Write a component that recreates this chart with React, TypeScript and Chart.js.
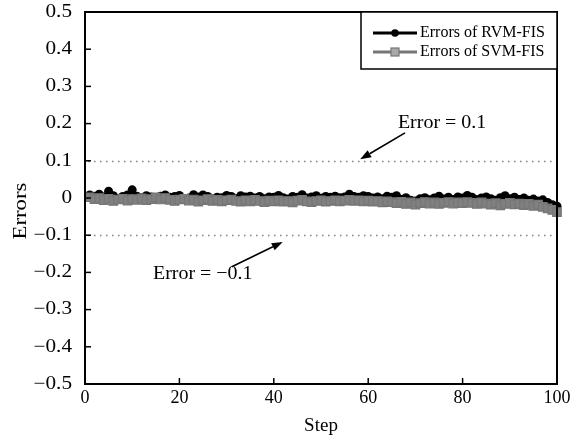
import React, { useEffect, useRef } from "react";
import { Chart, registerables } from "chart.js";

Chart.register(...registerables);

const steps: number[] = Array.from({ length: 100 }, (_, i) => i + 1);

const rvmErrors: number[] = [
  0.008, 0.005, 0.01, 0.003, 0.018, 0.006, -0.002, 0.004, 0.008, 0.022,
  0.005, 0.0, 0.006, 0.003, -0.003, 0.005, 0.008, 0.002, 0.004, 0.007,
  -0.004, 0.0, 0.009, 0.003, 0.008, 0.004, -0.003, 0.002, 0.001, 0.007,
  0.004, -0.002, 0.006, 0.003, 0.005, 0.0, 0.004, -0.002, 0.003, 0.002,
  0.007, 0.001, -0.003, 0.004, 0.002, 0.009, 0.0, 0.003, 0.006, -0.001,
  0.004, 0.002, 0.005, 0.001, 0.003, 0.01, 0.004, 0.002, 0.006, 0.004,
  0.0, 0.003, -0.002, 0.005, 0.002, 0.006, -0.004, 0.001, -0.006, -0.008,
  -0.002, 0.001, -0.005, 0.0, 0.005, -0.003, 0.002, -0.004, 0.003, 0.0,
  0.007, 0.002, -0.004, 0.0, 0.003, -0.002, -0.006, 0.001, 0.006, -0.002,
  0.002, -0.004, 0.0, -0.006, -0.003, -0.008, -0.005, -0.012, -0.018, -0.022,
];

const svmErrors: number[] = [
  0.002, -0.003, 0.0, -0.006, -0.002, -0.008, -0.004, -0.002, -0.007, -0.003,
  -0.005, -0.001, -0.006, -0.003, 0.002, -0.004, 0.0, -0.005, -0.008, -0.004,
  -0.002, -0.007, -0.004, -0.01, -0.006, -0.003, -0.008, -0.005, -0.009, -0.006,
  -0.004, -0.008, -0.01, -0.006, -0.009, -0.005, -0.008, -0.011, -0.007, -0.009,
  -0.006, -0.01, -0.008, -0.012, -0.007, -0.005, -0.009, -0.011, -0.008, -0.006,
  -0.01, -0.008, -0.006, -0.009, -0.007, -0.005, -0.008, -0.006, -0.009, -0.007,
  -0.01, -0.008, -0.012, -0.009, -0.011, -0.014, -0.01, -0.016, -0.012, -0.018,
  -0.014, -0.011, -0.015, -0.012, -0.016, -0.013, -0.011, -0.015, -0.012, -0.014,
  -0.011, -0.013, -0.016, -0.012, -0.015, -0.018, -0.014, -0.02, -0.016, -0.013,
  -0.017, -0.015, -0.019, -0.016, -0.021, -0.018, -0.024, -0.028, -0.032, -0.038,
];

const seriesNames: string[] = ["Errors of RVM-FIS", "Errors of SVM-FIS"];
const thresholds: number[] = [0.1, -0.1];
const xTickStep = 20;
const yTickStep = 0.1;

const annotationTexts: string[] = ["Error = 0.1", "Error = \u22120.1"];
// [textX, textY, arrowFromX, arrowFromY, arrowToX, arrowToY] in data units
const annotationAnchors: number[][] = [
  [66.3, 0.202, 67.8, 0.175, 58.3, 0.104],
  [14.4, -0.205, 31.1, -0.185, 41.9, -0.118],
];

const SERIF = "'Liberation Serif', 'Times New Roman', serif";

function yLabel(v: number): string {
  const r = Math.round(v * 10) / 10;
  if (r === 0) return "0";
  return r < 0 ? "\u2212" + Math.abs(r).toFixed(1) : r.toFixed(1);
}

const decorPlugin = {
  id: "decor",
  beforeDatasetsDraw(chart: any) {
    const { ctx, chartArea, scales } = chart;
    const ys = scales.y;
    ctx.save();
    ctx.strokeStyle = "#808080";
    ctx.lineWidth = 1.5;
    ctx.setLineDash([1.5, 4.5]);
    thresholds.forEach((t) => {
      const y = Math.round(ys.getPixelForValue(t)) + 0.5;
      ctx.beginPath();
      ctx.moveTo(chartArea.left + 3, y);
      ctx.lineTo(chartArea.right, y);
      ctx.stroke();
    });
    ctx.restore();
  },
  afterDraw(chart: any) {
    const { ctx, chartArea, scales } = chart;
    const xs = scales.x;
    const ys = scales.y;
    const { left, right, top, bottom } = chartArea;
    ctx.save();
    // frame
    ctx.strokeStyle = "#000";
    ctx.lineWidth = 2;
    ctx.strokeRect(left, top, right - left, bottom - top);
    // inward ticks
    ctx.lineWidth = 1.5;
    xs.ticks.forEach((t: any) => {
      const x = xs.getPixelForValue(t.value);
      ctx.beginPath();
      ctx.moveTo(x, bottom);
      ctx.lineTo(x, bottom - 6);
      ctx.stroke();
    });
    ys.ticks.forEach((t: any) => {
      const y = ys.getPixelForValue(t.value);
      ctx.beginPath();
      ctx.moveTo(left, y);
      ctx.lineTo(left + 6, y);
      ctx.stroke();
    });
    // y tick labels (slightly wide, as in the reference)
    ctx.fillStyle = "#000";
    ctx.font = `18px ${SERIF}`;
    ctx.textAlign = "right";
    ctx.textBaseline = "middle";
    ys.ticks.forEach((t: any) => {
      const y = ys.getPixelForValue(t.value);
      ctx.save();
      ctx.translate(left - 13, y);
      ctx.scale(1.18, 1);
      ctx.fillText(yLabel(t.value), 0, 0);
      ctx.restore();
    });
    // annotations
    ctx.font = `19px ${SERIF}`;
    ctx.textBaseline = "middle";
    ctx.textAlign = "left";
    annotationAnchors.forEach((a, i) => {
      const tx = xs.getPixelForValue(a[0]);
      const ty = ys.getPixelForValue(a[1]);
      ctx.save();
      ctx.translate(tx, ty);
      ctx.scale(1.05, 1);
      ctx.fillText(annotationTexts[i], 0, 0);
      ctx.restore();
      const x1 = xs.getPixelForValue(a[2]);
      const y1 = ys.getPixelForValue(a[3]);
      const x2 = xs.getPixelForValue(a[4]);
      const y2 = ys.getPixelForValue(a[5]);
      const ang = Math.atan2(y2 - y1, x2 - x1);
      const hl = 11;
      const hw = 4;
      const bx = x2 - hl * Math.cos(ang);
      const by = y2 - hl * Math.sin(ang);
      ctx.lineWidth = 1.6;
      ctx.beginPath();
      ctx.moveTo(x1, y1);
      ctx.lineTo(bx, by);
      ctx.stroke();
      ctx.beginPath();
      ctx.moveTo(x2, y2);
      ctx.lineTo(bx + hw * Math.sin(ang), by - hw * Math.cos(ang));
      ctx.lineTo(bx - hw * Math.sin(ang), by + hw * Math.cos(ang));
      ctx.closePath();
      ctx.fill();
    });
    // axis titles
    ctx.font = `19px ${SERIF}`;
    ctx.textAlign = "center";
    ctx.textBaseline = "middle";
    ctx.fillText("Step", (left + right) / 2, 426);
    ctx.save();
    ctx.translate(21, 211);
    ctx.rotate(-Math.PI / 2);
    ctx.scale(1.2, 1);
    ctx.fillText("Errors", 0, 0);
    ctx.restore();
    // legend
    const lx = 361;
    const ly = top;
    const lw = right - lx;
    const lh = 57;
    ctx.fillStyle = "#fff";
    ctx.fillRect(lx, ly, lw, lh);
    ctx.strokeStyle = "#000";
    ctx.lineWidth = 1.5;
    ctx.strokeRect(lx, ly, lw, lh);
    const ds = chart.data.datasets;
    const rowsY = [ly + 21, ly + 40];
    ds.forEach((d: any, i: number) => {
      const y = rowsY[i];
      ctx.strokeStyle = d.borderColor;
      ctx.lineWidth = 3;
      ctx.beginPath();
      ctx.moveTo(lx + 12, y);
      ctx.lineTo(lx + 56, y);
      ctx.stroke();
      ctx.fillStyle = d.pointBackgroundColor;
      ctx.strokeStyle = d.pointBorderColor;
      ctx.lineWidth = 1.2;
      if (d.pointStyle === "rect") {
        ctx.fillStyle = "#a8a8a8";
        ctx.fillRect(lx + 30, y - 4, 8, 8);
        ctx.strokeRect(lx + 30, y - 4, 8, 8);
      } else {
        ctx.beginPath();
        ctx.arc(lx + 34, y, 3.8, 0, Math.PI * 2);
        ctx.fill();
      }
      ctx.fillStyle = "#000";
      ctx.font = `16px ${SERIF}`;
      ctx.textAlign = "left";
      ctx.textBaseline = "middle";
      ctx.fillText(d.label, lx + 59, y);
    });
    ctx.restore();
  },
};

export default function App() {
  const ref = useRef<HTMLCanvasElement | null>(null);
  useEffect(() => {
    if (!ref.current) return;
    const chart = new Chart(ref.current, {
      type: "line",
      data: {
        datasets: [
          {
            label: seriesNames[0],
            data: steps.map((s, i) => ({ x: s, y: rvmErrors[i] })),
            borderColor: "#000",
            borderWidth: 3,
            pointStyle: "circle",
            pointRadius: 4.5,
            pointBackgroundColor: "#000",
            pointBorderColor: "#000",
            pointBorderWidth: 0,
            tension: 0,
            order: 1,
            clip: 8,
          },
          {
            label: seriesNames[1],
            data: steps.map((s, i) => ({ x: s, y: svmErrors[i] })),
            borderColor: "#767676",
            borderWidth: 4,
            pointStyle: "rect",
            pointRadius: 6,
            pointBackgroundColor: "#808080",
            pointBorderColor: "#767676",
            pointBorderWidth: 1.2,
            tension: 0,
            order: 0,
            clip: 8,
          },
        ],
      },
      options: {
        responsive: false,
        devicePixelRatio: 1,
        animation: false,
        layout: { padding: { top: 12, right: 24, left: 0, bottom: 0 } },
        plugins: {
          legend: { display: false },
          tooltip: { enabled: false },
          title: { display: false },
        },
        scales: {
          x: {
            type: "linear",
            min: 0,
            max: 100,
            grid: { display: false, drawTicks: false },
            border: { display: false },
            ticks: {
              stepSize: xTickStep,
              color: "#000",
              padding: 3,
              maxRotation: 0,
              font: { family: SERIF, size: 18 },
            },
            afterFit: (s: any) => {
              s.height = 55;
            },
          },
          y: {
            type: "linear",
            min: -0.5,
            max: 0.5,
            grid: { display: false, drawTicks: false },
            border: { display: false },
            ticks: {
              display: false,
              stepSize: yTickStep,
            },
            afterFit: (s: any) => {
              s.width = 85;
            },
          },
        },
      },
      plugins: [decorPlugin],
    } as any);
    return () => chart.destroy();
  }, []);
  return (
    <div
      style={{
        position: "fixed",
        left: 0,
        top: 0,
        width: 581,
        height: 439,
        background: "#fff",
      }}
    >
      <canvas ref={ref} width={581} height={439} style={{ display: "block" }} />
    </div>
  );
}
